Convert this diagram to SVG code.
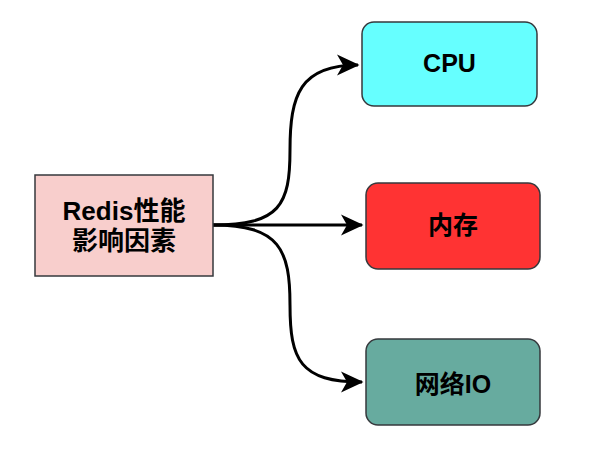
<svg xmlns="http://www.w3.org/2000/svg" width="596" height="452" viewBox="0 0 596 452">
<style>
.n{stroke:#36393d;stroke-width:1.5}
.t{font-family:"Liberation Sans","Noto Sans CJK SC",sans-serif;font-weight:bold;font-size:25px;text-anchor:middle;fill:#000}
.e{fill:none;stroke:#000;stroke-width:3}
</style>
<defs>
<marker id="ah" markerWidth="8" markerHeight="8" refX="7" refY="4" orient="auto" markerUnits="strokeWidth" viewBox="0 0 8 8">
<path d="M0,0.5 L7.5,4 L0,7.5 L2,4 Z" fill="#000"/>
</marker>
</defs>
<rect width="596" height="452" fill="#fff"/>
<g id="edges">
<path class="e" d="M213,225 C280,225 290,205 290,150 C290,95 300,65 358,65" marker-end="url(#ah)"/>
<path class="e" d="M213,225 L362,225" marker-end="url(#ah)"/>
<path class="e" d="M213,225 C280,225 290,250 290,305 C290,360 300,382 362,382" marker-end="url(#ah)"/>
</g>
<g id="redis">
<rect class="n" x="35" y="175" width="178" height="101" fill="#f8cecc"/>
<text class="t" x="124" y="220" style="font-size:26px">Redis性能</text>
<text class="t" x="124" y="250" style="font-size:26px">影响因素</text>
</g>
<g id="cpu">
<rect class="n" x="362" y="22" width="175" height="84" rx="12" fill="#66ffff"/>
<text class="t" x="449.5" y="72">CPU</text>
</g>
<g id="mem">
<rect class="n" x="366" y="183" width="174" height="86" rx="12" fill="#ff3333"/>
<text class="t" x="453" y="234">内存</text>
</g>
<g id="net">
<rect class="n" x="366" y="339" width="174" height="86" rx="12" fill="#67ab9f"/>
<text class="t" x="453" y="393">网络IO</text>
</g>
</svg>
